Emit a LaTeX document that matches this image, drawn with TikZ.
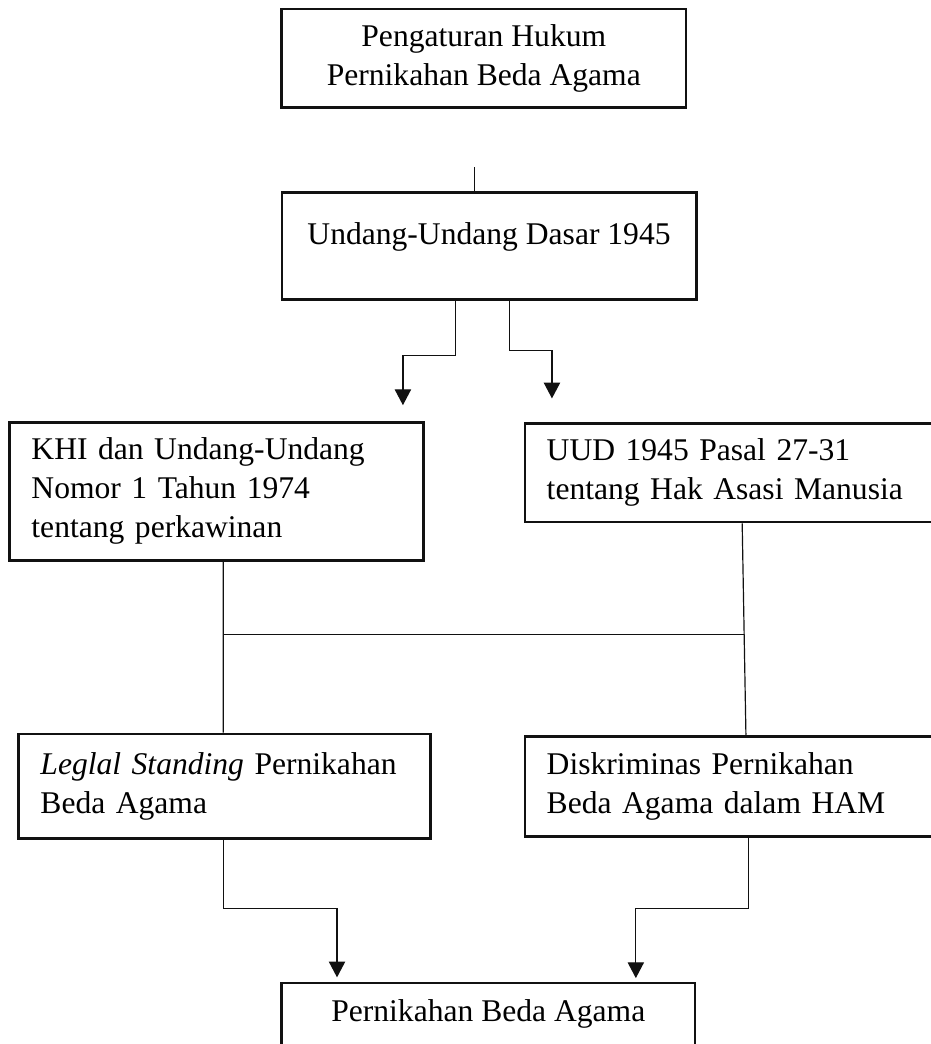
\documentclass[tikz,border=0pt]{standalone}
\usepackage{fontspec}
\setmainfont{Liberation Serif}
\usepackage{tikz}
\usepackage{xcolor}
\usetikzlibrary{arrows.meta,positioning,calc}
\definecolor{ink}{HTML}{111111}
\tikzset{
  box/.style={draw=ink,line width=1.1pt,align=center,inner sep=0pt,
              font=\fontsize{12}{14.8}\selectfont},
  leftbox/.style={box,align=left,inner xsep=0.29cm},
  link/.style={line width=0.45pt,draw=ink},
  downarr/.style={link,-{Triangle[length=6pt,width=6.2pt]}}
}

\begin{document}
\begin{tikzpicture}[x=1cm,y=1cm]
    \path[use as bounding box] (0,0) rectangle (12.43,-13.94);

    \node[box,minimum width=5.40cm,minimum height=1.32cm] (aturan) at (6.46,-0.78)
      {Pengaturan Hukum\\Pernikahan Beda Agama};
    \node[box,minimum width=5.53cm,minimum height=1.43cm,
          text height=8.6pt,text depth=9.6pt] (uud45) at (6.53,-3.28)
      {Undang-Undang Dasar 1945};

    \node[leftbox,text width=4.94cm,minimum height=1.84cm] (khi) at (2.89,-6.56)
      {KHI dan Undang-Undang\\Nomor 1 Tahun 1974\\tentang perkawinan};
    \node[leftbox,text width=5.10cm,minimum height=1.32cm] (hak) at (9.85,-6.31)
      {UUD 1945 Pasal 27-31\\tentang Hak Asasi Manusia};

    \node[leftbox,text width=4.92cm,minimum height=1.40cm] (legal) at (3.00,-10.50)
      {\textit{Leglal Standing} Pernikahan\\Beda Agama};
    \node[leftbox,text width=5.10cm,minimum height=1.34cm] (diskr) at (9.85,-10.50)
      {Diskriminas Pernikahan\\Beda Agama dalam HAM};

    \node[box,minimum width=5.52cm,minimum height=0.83cm] (nikah) at (6.52,-13.54)
      {Pernikahan Beda Agama};

    % free ends
    \coordinate (stub) at (6.34,-2.23);
    \coordinate (tipA) at (5.38,-5.41);
    \coordinate (tipB) at (7.37,-5.32);
    \coordinate (joinL) at (2.98,-8.47);
    \coordinate (joinR) at (9.93,-8.47);
    \coordinate (tipC) at (4.50,-13.05);
    \coordinate (tipD) at (8.49,-13.06);

    \draw[link] (stub) -- (stub |- uud45.north);
    \draw[downarr] ([xshift=-4.5mm]uud45.south) -- ++(0,-0.73) -| (tipA);
    \draw[downarr] ([xshift=2.7mm]uud45.south) -- ++(0,-0.67) -| (tipB);

    \draw[link] ([xshift=0.9mm]khi.south) -- ([xshift=-0.2mm]legal.north);
    \draw[link] ([xshift=0.6mm]hak.south) -- ([xshift=1.1mm]diskr.north);
    \draw[link] (joinL) -- (joinR);

    \draw[downarr] ([xshift=-0.2mm]legal.south) -- ++(0,-0.91) -| (tipC);
    \draw[downarr] ([xshift=1.4mm]diskr.south) -- ++(0,-0.94) -| (tipD);
  \end{tikzpicture}
\end{document}
